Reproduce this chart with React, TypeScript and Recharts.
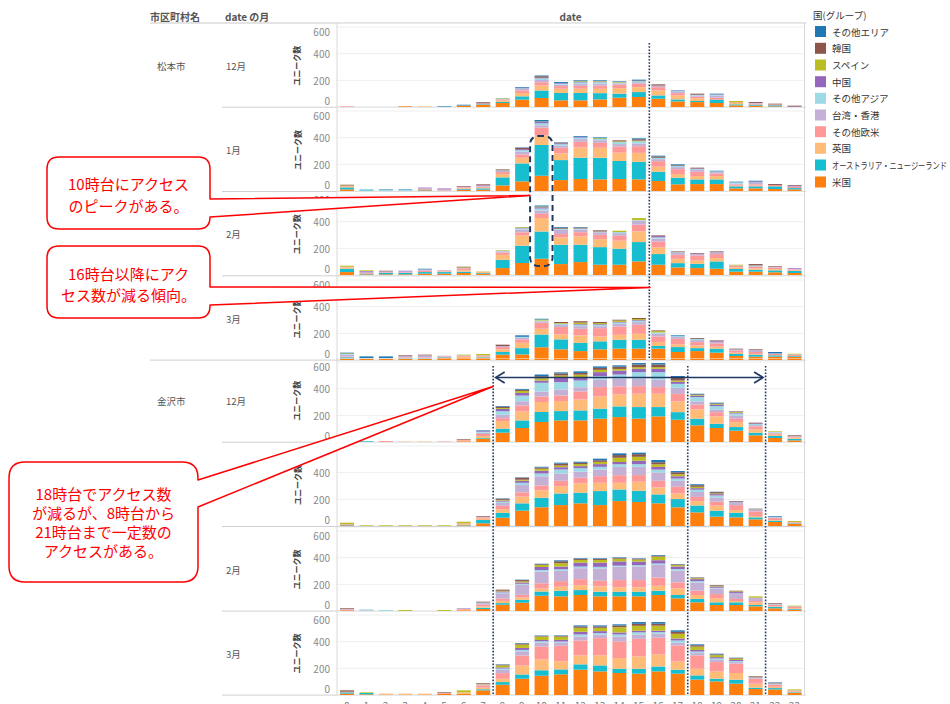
import React from 'react';
import { BarChart, Bar, XAxis, YAxis, CartesianGrid } from 'recharts';

const hours = ['0','1','2','3','4','5','6','7','8','9','10','11','12','13','14','15','16','17','18','19','20','21','22','23'];

// stacking order: bottom -> top
const seriesNames = ['米国','オーストラリア・ニュージーランド','英国','その他欧米','台湾・香港','その他アジア','中国','スペイン','韓国','その他エリア'];
const seriesColors = ['#ff7f0e','#17becf','#ffbb78','#ff9896','#c5b0d5','#9edae5','#9467bd','#bcbd22','#8c564b','#1f77b4'];

const cities = ['松本市','金沢市'];
const months = ['12月','1月','2月','3月'];
const yTicks = [0,200,400,600];

// each row = one hour, values in stacking order
const matsumotoDec = [
[0,0,0,5,0,0,0,0,0,0],[0,0,0,0,0,0,0,0,0,0],[0,0,0,0,0,0,0,0,0,0],[5,0,0,0,0,0,0,0,0,0],
[0,0,5,0,0,0,0,0,0,0],[0,0,0,0,0,3,0,0,0,4],[10,2,0,0,0,0,0,0,0,5],[15,5,0,8,0,0,0,0,7,2],
[30,8,10,8,3,0,0,4,0,2],[55,25,25,20,10,5,5,0,0,5],[67,57,37,25,17,12,5,0,10,7],[50,55,32,20,10,8,5,0,0,7],
[50,55,32,22,15,10,5,5,0,6],[57,47,32,25,15,10,5,4,0,5],[70,30,42,25,10,5,0,5,0,5],[75,37,37,25,12,8,0,0,5,6],
[62,25,37,25,12,0,0,0,9,0],[42,15,30,17,10,5,3,0,0,3],[37,8,20,12,10,5,0,0,8,0],[30,25,0,15,17,5,3,0,0,5],
[12,8,10,5,0,0,0,10,0,0],[10,8,0,7,5,0,0,0,7,0],[5,8,0,7,0,0,0,0,5,0],[0,0,0,0,0,0,5,0,5,0],
];
const matsumotoJan = [
[12,15,5,5,0,0,0,5,5,0],[0,5,0,0,0,10,0,0,0,0],[0,0,0,0,0,12,0,0,0,3],[0,0,0,0,0,12,0,0,0,3],
[5,5,0,5,10,0,2,0,0,0],[0,0,0,5,15,0,2,0,0,0],[10,5,5,7,5,0,0,0,5,0],[10,10,5,8,7,0,3,0,7,0],
[42,60,25,15,8,5,0,0,7,0],[72,135,42,25,20,12,8,0,10,3],[115,230,72,60,17,15,8,5,0,10],[82,150,50,42,15,12,5,0,5,4],
[90,160,77,42,20,12,5,0,0,6],[87,162,75,37,20,10,0,5,0,6],[90,135,62,45,20,15,0,5,8,0],[87,132,67,50,20,17,0,5,10,7],
[75,70,37,42,15,10,0,0,10,6],[50,50,27,37,15,10,0,0,5,6],[52,35,25,32,15,5,5,0,6,0],[52,35,25,20,10,5,0,0,0,5],
[20,15,5,10,5,10,0,0,0,5],[20,15,5,10,10,5,7,0,0,5],[15,20,0,10,0,0,0,0,7,0],[12,10,0,8,5,0,5,0,5,0],
];
const matsumotoFeb = [
[22,25,10,5,0,0,0,8,0,0],[5,5,0,5,10,0,5,5,0,0],[5,10,0,5,7,0,0,0,5,0],[5,10,0,5,7,0,5,0,0,0],
[10,12,0,10,10,0,0,0,0,5],[10,12,5,5,5,0,0,0,0,0],[15,10,10,12,5,0,0,5,5,0],[10,5,10,0,0,0,0,2,0,0],
[52,62,37,17,10,5,0,4,0,0],[90,130,75,25,20,10,5,5,0,0],[122,205,100,32,25,15,10,5,0,8],[82,145,55,25,32,8,0,0,8,5],
[97,130,62,32,20,8,0,0,7,4],[77,132,60,32,20,5,0,0,9,0],[77,120,60,37,20,8,0,10,0,0],[102,145,80,50,30,5,0,15,0,0],
[77,80,50,45,20,10,10,0,5,0],[57,32,32,30,15,5,0,0,6,0],[52,32,25,37,10,0,5,0,4,0],[47,55,25,30,15,0,0,0,5,0],
[25,20,12,10,5,0,0,5,0,0],[25,15,10,12,5,5,0,0,10,0],[20,15,10,10,5,0,0,0,5,0],[15,15,5,7,5,0,5,0,0,0],
];
const matsumotoMar = [
[10,10,0,5,15,5,0,5,0,5],[10,0,0,0,0,5,0,0,0,12],[10,0,0,0,0,5,0,0,0,12],[10,5,0,5,10,0,0,0,5,0],
[10,5,0,5,15,0,0,0,5,0],[15,5,0,7,5,0,0,0,0,0],[15,0,10,5,5,0,0,5,0,0],[15,5,5,5,5,0,0,10,0,0],
[40,20,20,17,8,0,0,0,10,0],[42,47,40,25,12,8,0,0,0,11],[95,97,42,45,12,5,0,8,0,6],[80,75,37,55,15,10,0,5,8,0],
[67,62,55,50,20,10,5,12,10,0],[80,60,37,62,15,10,5,8,8,0],[85,67,37,62,20,10,5,10,6,0],[85,67,45,67,20,10,5,8,8,0],
[85,20,30,42,20,10,0,10,5,0],[60,37,20,42,15,5,0,0,0,6],[67,22,20,25,15,10,0,0,6,0],[55,30,15,25,12,0,5,0,5,0],
[30,15,10,15,10,0,0,0,5,0],[25,15,5,15,15,0,0,0,5,0],[25,10,0,10,5,0,0,0,0,10],[25,5,0,7,5,0,0,5,0,0],
];
const kanazawaDec = [
[0,0,0,0,0,0,0,0,0,0],[0,5,0,0,0,0,0,0,0,0],[0,0,0,7,0,0,0,0,0,0],[0,0,3,0,0,0,0,0,0,0],
[0,0,3,0,0,0,0,0,0,0],[0,0,0,3,0,0,0,0,0,0],[5,0,5,5,0,0,0,0,5,0],[25,5,15,15,10,7,5,0,0,5],
[70,30,57,22,25,27,17,7,10,5],[105,57,67,45,32,42,20,15,8,6],[150,75,75,42,37,65,17,17,15,14],[162,70,75,42,45,55,35,15,15,8],
[162,75,82,60,32,50,22,22,13,12],[175,75,92,70,57,25,30,17,15,11],[187,80,90,60,57,32,30,12,17,10],[175,87,100,57,55,50,25,12,20,11],
[192,70,100,50,57,55,25,12,20,11],[167,57,80,57,45,30,15,10,20,14],[125,50,70,35,25,32,10,5,5,5],[105,32,55,32,20,25,10,5,5,6],
[85,27,37,25,25,15,5,5,5,1],[50,20,25,22,10,8,5,0,5,0],[30,15,10,10,5,5,0,5,0,0],[12,12,10,5,5,0,0,0,6,0],
];
const kanazawaJan = [
[5,5,0,5,0,0,0,10,0,0],[0,0,0,0,0,0,0,5,0,0],[0,0,0,0,0,0,0,5,0,0],[0,0,0,0,0,0,0,5,0,0],
[0,0,0,0,0,0,0,5,0,0],[0,0,0,0,0,0,0,5,0,0],[5,5,5,5,0,0,0,12,0,0],[20,25,10,10,5,0,0,0,5,0],
[62,37,27,25,22,10,8,5,8,3],[115,55,50,32,55,17,15,8,15,3],[140,72,57,35,70,20,20,15,10,6],[157,87,55,40,55,30,17,12,15,7],
[170,80,70,42,45,27,15,15,10,8],[157,105,62,50,50,20,20,17,12,12],[187,87,50,57,62,20,17,32,20,13],[180,85,67,50,62,20,25,30,20,11],
[170,67,52,50,62,22,20,20,15,17],[140,62,42,50,45,17,17,15,15,9],[102,52,32,32,37,17,12,10,12,7],[70,45,37,30,32,15,10,5,10,3],
[65,35,20,37,15,5,5,0,5,0],[50,15,10,35,10,5,0,0,5,0],[30,10,5,15,5,5,0,0,0,5],[15,5,5,5,0,0,0,7,0,0],
];
const kanazawaFeb = [
[5,0,0,5,7,0,0,0,5,0],[0,0,0,0,5,7,0,0,0,0],[0,0,0,0,0,7,0,0,0,0],[0,0,0,0,0,0,0,7,0,0],
[0,0,0,0,0,0,0,0,0,0],[0,0,0,0,0,0,0,7,0,0],[5,0,5,5,5,0,2,0,0,0],[15,10,10,12,12,5,0,0,6,0],
[47,12,17,17,40,7,7,5,8,0],[62,22,17,20,75,8,10,8,10,3],[115,32,22,40,87,12,22,15,5,5],[110,42,30,42,77,12,20,25,15,7],
[120,37,37,45,82,12,30,20,7,5],[110,35,40,42,92,12,32,20,7,5],[110,35,32,55,100,8,32,20,5,5],[110,35,32,55,102,10,27,15,5,4],
[120,32,37,62,95,10,25,27,7,5],[95,25,50,45,87,12,20,10,5,3],[65,25,30,32,62,10,15,7,5,1],[45,20,30,32,42,5,10,5,5,1],
[45,20,10,15,37,5,10,5,5,0],[35,10,20,10,25,0,0,10,0,0],[20,10,5,10,5,5,0,0,5,0],[10,5,5,10,5,0,0,5,0,0],
];
const kanazawaMar = [
[10,10,0,5,0,0,0,0,10,0],[5,10,0,0,0,0,0,5,0,0],[0,0,10,0,0,0,0,0,0,0],[0,0,10,0,0,0,0,0,0,0],
[0,0,10,0,0,0,0,0,0,0],[10,0,0,5,0,0,0,0,5,0],[10,0,10,0,0,0,0,15,0,0],[35,8,12,17,8,0,0,5,5,0],
[77,20,25,42,25,10,8,15,5,3],[122,32,67,75,32,10,15,25,8,4],[145,40,82,97,27,12,10,25,5,4],[155,37,60,117,22,10,12,25,5,4],
[190,40,67,112,30,15,20,30,10,8],[177,45,75,130,25,12,15,25,10,8],[165,32,80,125,37,15,15,40,12,9],[160,37,92,132,32,17,12,37,15,13],
[177,37,90,125,30,12,12,37,15,12],[160,30,62,120,20,17,15,35,15,11],[115,32,50,100,17,12,12,25,10,7],[102,20,55,70,17,10,10,15,5,6],
[85,30,50,70,12,8,8,10,5,2],[45,10,30,37,5,5,0,0,8,0],[42,10,10,15,5,5,0,0,5,3],[15,5,5,5,5,0,0,7,0,0],
];

const panelData = [matsumotoDec, matsumotoJan, matsumotoFeb, matsumotoMar, kanazawaDec, kanazawaJan, kanazawaFeb, kanazawaMar];

// layout
const FONT = '"Noto Sans CJK JP", "Noto Sans", sans-serif';
const AXIS_W = 45;
const CHART_LEFT = 292;
const PLOT_LEFT = CHART_LEFT + AXIS_W; // 337
const PLOT_W = 467;
const PLOT_RIGHT = PLOT_LEFT + PLOT_W;
const PANEL_H = 84;
const panelTops = [22.7, 107, 191.3, 275.6, 357.7, 442, 526.6, 610.6];
const BAND = PLOT_W / hours.length;
const edgeX = (i: number) => PLOT_LEFT + i * BAND;

const NAVY = '#1f3864';
const RED = '#ff0000';

function buildRows(data: number[][]) {
  return hours.map((h, i) => {
    const r: any = { hour: h };
    data[i].forEach((v, k) => { r['s' + k] = v; });
    return r;
  });
}

function YTick(props: any) {
  const { y, payload } = props;
  const v = payload.value;
  const dy = v === 600 ? 4.5 : v === 0 ? -7 : 0;
  return (
    <text x={38} y={y + dy} textAnchor="end" dominantBaseline="central" fontSize={10} fill="#8a8a8a" fontFamily={FONT}>{v}</text>
  );
}

function Panel({ data, top, showX }: { data: number[][]; top: number; showX: boolean }) {
  const rows = buildRows(data);
  return (
    <div style={{ position: 'absolute', left: CHART_LEFT, top }}>
      <BarChart width={AXIS_W + PLOT_W} height={PANEL_H + (showX ? 20 : 0)} data={rows}
        margin={{ top: 0, right: 0, bottom: 0, left: 0 }} barSize={14}>
        <CartesianGrid vertical={false} stroke="#efefef" />
        <XAxis dataKey="hour" hide={!showX} height={20} tickLine={false} axisLine={false} interval={0}
          tick={{ fontSize: 10, fill: '#777', fontFamily: FONT }} />
        <YAxis width={AXIS_W} domain={[0, 630]} ticks={yTicks} interval={0} tickLine={false}
          axisLine={{ stroke: '#d9d9d9' }} tick={(p: any) => <YTick {...p} />} />
        {seriesNames.map((s, k) => (
          <Bar key={s} dataKey={'s' + k} name={s} stackId="a" fill={seriesColors[k]} isAnimationActive={false} />
        ))}
      </BarChart>
    </div>
  );
}

function calloutPath(L: number, T: number, R: number, B: number, r: number, y1: number, y2: number, tx: number, ty: number) {
  return `M ${L + r} ${T} H ${R - r} Q ${R} ${T} ${R} ${T + r} V ${y1} L ${tx} ${ty} L ${R} ${y2} V ${B - r} Q ${R} ${B} ${R - r} ${B} H ${L + r} Q ${L} ${B} ${L} ${B - r} V ${T + r} Q ${L} ${T} ${L + r} ${T} Z`;
}

const callouts = [
  { L: 47, T: 157, R: 210, B: 229, r: 12, y1: 199, y2: 217, tx: 530, ty: 195.5,
    lines: ['10時台にアクセス', 'のピークがある。'], ys: [183, 205] },
  { L: 47, T: 246, R: 210, B: 318, r: 12, y1: 287, y2: 305, tx: 650, ty: 287.5,
    lines: ['16時台以降にアク', 'セス数が減る傾向。'], ys: [273, 294] },
  { L: 9, T: 462, R: 198, B: 582, r: 16, y1: 480, y2: 507, tx: 493, ty: 386.5,
    lines: ['18時台でアクセス数', 'が減るが、8時台から', '21時台まで一定数の', 'アクセスがある。'], ys: [493, 512, 531, 550] },
];

export default function App() {
  const lastIdx = panelData.length - 1;
  const legendY = [31.5, 48.3, 65, 81.7, 98.3, 115, 131.7, 148.3, 165, 182];
  const legendOrder = [9, 8, 7, 6, 5, 4, 3, 2, 1, 0];
  return (
    <div style={{ position: 'absolute', left: 0, top: 0, width: 950, height: 704, background: '#fff', overflow: 'hidden', fontFamily: FONT }}>
      {/* background: headers, labels, separators, legend */}
      <svg width={950} height={704} style={{ position: 'absolute', left: 0, top: 0 }} fontFamily={FONT}>
        <text x={150} y={16} dominantBaseline="central" fontSize={10} fontWeight="bold" fill="#555">市区町村名</text>
        <text x={225} y={16} dominantBaseline="central" fontSize={10} fontWeight="bold" fill="#555">date の月</text>
        <text x={(PLOT_LEFT + PLOT_RIGHT) / 2} y={16} textAnchor="middle" dominantBaseline="central" fontSize={10} fontWeight="bold" fill="#555">date</text>
        <line x1={150} x2={806} y1={23} y2={23} stroke="#c8c8c8" strokeWidth={1} />
        {panelTops.map((t, i) => {
          const bottom = t + PANEL_H;
          const full = i === 3;
          return (
            <g key={i}>
              <line x1={full ? 150 : 222} x2={806} y1={bottom + 0.5} y2={bottom + 0.5} stroke="#d0d0d0" strokeWidth={1} />
              <text x={226} y={t + 43} dominantBaseline="central" fontSize={9.5} fill="#555">{months[i % 4]}</text>
              <text x={297} y={t + 43} textAnchor="middle" dominantBaseline="central" fontSize={8} fontWeight="bold" fill="#444"
                transform={`rotate(-90 297 ${t + 43})`}>ユニーク数</text>
            </g>
          );
        })}
        <text x={157} y={panelTops[0] + 43} dominantBaseline="central" fontSize={9.5} fill="#555">{cities[0]}</text>
        <text x={157} y={panelTops[4] + 43} dominantBaseline="central" fontSize={9.5} fill="#555">{cities[1]}</text>
        <line x1={PLOT_RIGHT + 0.5} x2={PLOT_RIGHT + 0.5} y1={23} y2={panelTops[lastIdx] + PANEL_H} stroke="#d9d9d9" />
        {/* legend */}
        <text x={813} y={15} dominantBaseline="central" fontSize={9.5} fill="#333">国(グループ)</text>
        {legendOrder.map((k, j) => {
          const long = seriesNames[k].length > 10;
          return (
            <g key={k}>
              <rect x={815} y={legendY[j] - 5.5} width={11} height={11} fill={seriesColors[k]} />
              <text x={832} y={legendY[j]} dominantBaseline="central" fontSize={9.5} fill="#333"
                {...(long ? { textLength: 115, lengthAdjust: 'spacingAndGlyphs' } : {})}>{seriesNames[k]}</text>
            </g>
          );
        })}
      </svg>

      {panelData.map((d, i) => (
        <Panel key={i} data={d} top={panelTops[i]} showX={i === lastIdx} />
      ))}

      {/* annotations */}
      <svg width={950} height={704} style={{ position: 'absolute', left: 0, top: 0, pointerEvents: 'none' }} fontFamily={FONT}>
        <line x1={edgeX(16) + 1} x2={edgeX(16) + 1} y1={43} y2={358} stroke={NAVY} strokeWidth={1.6} strokeDasharray="1.6 1.6" />
        {[8, 18, 22].map((h) => (
          <line key={h} x1={edgeX(h) + 0.5} x2={edgeX(h) + 0.5} y1={366} y2={694} stroke={NAVY} strokeWidth={1.6} strokeDasharray="1.6 1.6" />
        ))}
        <rect x={edgeX(10) - 1.5} y={136} width={BAND + 3} height={130} rx={8} fill="none" stroke={NAVY} strokeWidth={2} strokeDasharray="6 4" />
        <line x1={edgeX(8) + 3} x2={edgeX(22) - 2} y1={377.5} y2={377.5} stroke={NAVY} strokeWidth={1.6} />
        <polyline points={`${edgeX(8) + 12},${372} ${edgeX(8) + 3},${377.5} ${edgeX(8) + 12},${383}`} fill="none" stroke={NAVY} strokeWidth={1.6} />
        <polyline points={`${edgeX(22) - 11},${372} ${edgeX(22) - 2},${377.5} ${edgeX(22) - 11},${383}`} fill="none" stroke={NAVY} strokeWidth={1.6} />
        {callouts.map((c, i) => (
          <g key={i}>
            <path d={calloutPath(c.L, c.T, c.R, c.B, c.r, c.y1, c.y2, c.tx, c.ty)} fill="#fff" stroke={RED} strokeWidth={1.5} strokeLinejoin="round" />
            {c.lines.map((ln, j) => (
              <text key={j} x={(c.L + c.R) / 2} y={c.ys[j]} textAnchor="middle" dominantBaseline="central" fontSize={15} fill={RED}>{ln}</text>
            ))}
          </g>
        ))}
      </svg>
    </div>
  );
}
